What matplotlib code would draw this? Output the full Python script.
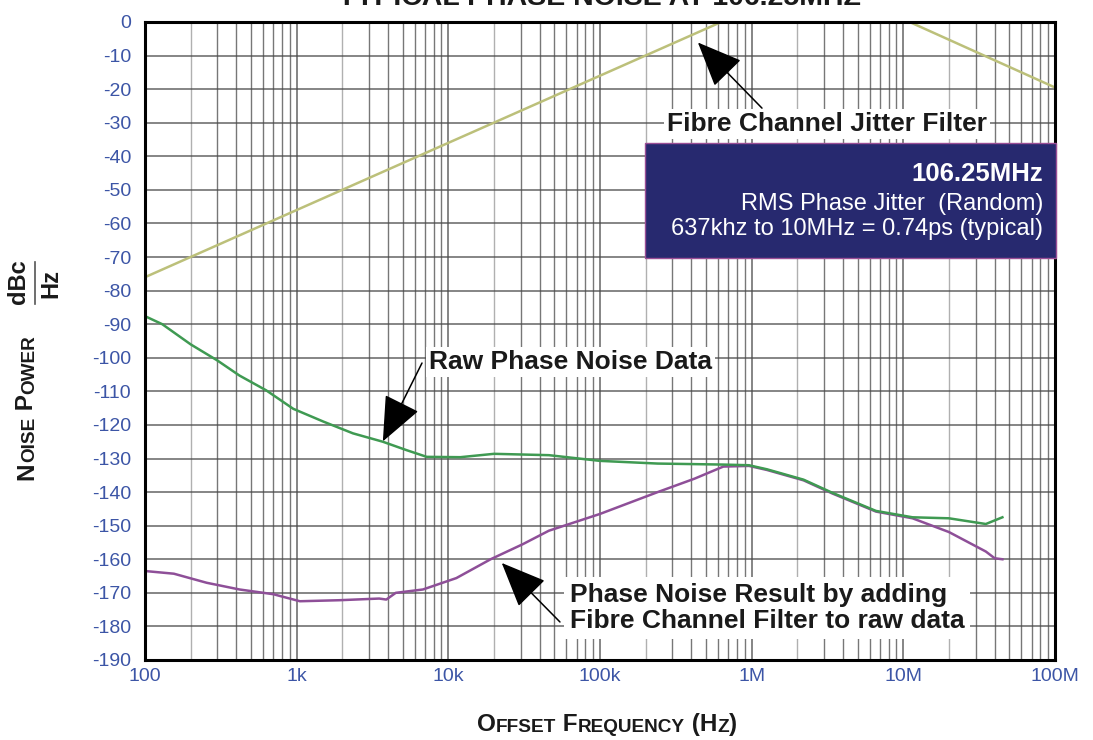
import matplotlib
matplotlib.use('Agg')
import matplotlib.pyplot as plt
from matplotlib.patches import Rectangle
from matplotlib.lines import Line2D
from matplotlib.ticker import FixedLocator, NullFormatter

plt.rcParams['font.family'] = ['Liberation Sans', 'DejaVu Sans']

# raw phase noise data (green)
raw_f = [100, 130, 200, 300, 420, 630, 950, 1.5e3, 2.35e3, 3.7e3, 5.3e3, 7.2e3,
         1.2e4, 2e4, 4.6e4, 1e5, 2.4e5, 6.5e5, 9.6e5, 1.26e6, 2.2e6, 3.4e6,
         6.6e6, 1.15e7, 2e7, 3.5e7, 4.5e7]
raw_db = [-87.6, -90, -96, -100.8, -105.3, -109.7, -115.2, -119, -122.5, -125,
          -127.5, -129.5, -129.6, -128.6, -129, -130.7, -131.5, -131.8, -132,
          -133.2, -136.3, -140.2, -145.6, -147.5, -147.8, -149.5, -147.5]

# result after fibre channel filter (purple)
res_f = [100, 155, 255, 420, 700, 900, 1.05e3, 1.9e3, 3.5e3, 3.9e3, 4.5e3, 6.8e3,
         1.13e4, 1.9e4, 3.1e4, 4.6e4, 1e5, 2.4e5, 4.2e5, 6.5e5, 9.6e5, 1.26e6,
         2.2e6, 3.4e6, 6.6e6, 1.15e7, 2e7, 3.5e7, 4e7, 4.5e7]
res_db = [-163.5, -164.3, -167, -169, -170.4, -171.7, -172.5, -172.2, -171.7, -172,
          -170, -169, -165.6, -160, -155.5, -151.5, -146.5, -140, -136, -132.4,
          -132.2, -133.4, -136.5, -140.4, -145.8, -147.8, -151.9, -157.7, -159.7, -160]

# fibre channel jitter filter (olive)
filt_f = [100, 6.3e5, 1.1e7, 1e8]
filt_db = [-76, 0, 0, -19.5]

x_ticks = [1e2, 1e3, 1e4, 1e5, 1e6, 1e7, 1e8]
x_labels = ['100', '1k', '10k', '100k', '1M', '10M', '100M']
y_ticks = list(range(0, -200, -10))

W, H = 1093, 740
fig = plt.figure(figsize=(W / 100, H / 100), dpi=100)
ax = fig.add_axes([145 / W, 1 - 660 / H, 910 / W, 638 / H])

blue = '#3c55a6'

ax.set_xscale('log')
ax.set_xlim(1e2, 1e8)
ax.set_ylim(-190, 0)

# grid
minor = [m * 10 ** d for d in range(2, 8) for m in range(3, 10)]
ax.xaxis.set_major_locator(FixedLocator(x_ticks))
ax.xaxis.set_minor_locator(FixedLocator(minor))
ax.xaxis.set_minor_formatter(NullFormatter())
ax.set_xticklabels(x_labels)
ax.set_yticks(y_ticks)
ax.set_yticklabels([str(v) for v in y_ticks])
ax.grid(True, which='major', color='#4a4a4a', lw=1.1, alpha=0.85)
ax.grid(True, which='minor', axis='x', color='#4a4a4a', lw=1.0, alpha=0.75)
for d in range(2, 8):
    ax.axvline(2 * 10 ** d, color='#b0b0b0', lw=1.0, zorder=0.5)
ax.tick_params(which='both', length=0, labelcolor=blue, labelsize=14)
ax.tick_params(axis='y', pad=10)
ax.tick_params(axis='x', pad=6)
for sp in ax.spines.values():
    sp.set_linewidth(2.2)
    sp.set_color('black')
    sp.set_zorder(4)

ax.plot(filt_f, filt_db, color='#bcc07a', lw=1.8, zorder=2)
ax.plot(res_f, res_db, color='#8e4f98', lw=1.8, zorder=3)
ax.plot(raw_f, raw_db, color='#3f9a52', lw=1.8, zorder=3)

# annotations
arrow = dict(arrowstyle='-|>,head_length=1.3,head_width=0.55', mutation_scale=22,
             lw=1.1, color='black', shrinkA=0, shrinkB=0)
ax.annotate('', xy=(4.42e5, -6.1), xytext=(0.678, 0.865),
            xycoords='data', textcoords='axes fraction', arrowprops=arrow, zorder=6)
ax.annotate('', xy=(3.7e3, -124.9), xytext=(0.3044, 0.4655),
            xycoords='data', textcoords='axes fraction', arrowprops=arrow, zorder=6)
ax.annotate('', xy=(2.25e4, -161.1), xytext=(0.456, 0.0596),
            xycoords='data', textcoords='axes fraction', arrowprops=arrow, zorder=6)

wbox = dict(fc='white', ec='none', pad=2)
ax.text(0.7495, 0.840, 'Fibre Channel Jitter Filter', transform=ax.transAxes,
        ha='center', va='center', fontsize=19, fontweight='bold', color='#1a1a1a',
        bbox=wbox, zorder=7)
ax.text(0.3121, 0.4671, 'Raw Phase Noise Data', transform=ax.transAxes,
        ha='left', va='center', fontsize=19, fontweight='bold', color='#1a1a1a',
        bbox=wbox, zorder=7)
ax.text(0.467, 0.0815, 'Phase Noise Result by adding\nFibre Channel Filter to raw data',
        transform=ax.transAxes, ha='left', va='center', fontsize=19,
        fontweight='bold', color='#1a1a1a', linespacing=1.15,
        bbox=dict(fc='white', ec='none', pad=4), zorder=7)

ax.add_patch(Rectangle((0.5495, 0.630), 0.452, 0.180, transform=ax.transAxes,
                       fc='#27296f', ec='#9b4f96', lw=1, clip_on=False, zorder=8))
ax.text(0.9868, 0.7618, '106.25MHz', transform=ax.transAxes, ha='right', va='center',
        fontsize=18.5, fontweight='bold', color='white', zorder=9)
ax.text(0.9868, 0.7147, 'RMS Phase Jitter  (Random)', transform=ax.transAxes,
        ha='right', va='center', fontsize=17, color='white', zorder=9)
ax.text(0.9868, 0.6755, '637khz to 10MHz = 0.74ps (typical)', transform=ax.transAxes,
        ha='right', va='center', fontsize=17, color='white', zorder=9)

fig.text(600 / W, 1 - 5 / H, 'TYPICAL PHASE NOISE AT 106.25MHZ', ha='center',
         va='baseline', fontsize=20.5, fontweight='bold', color='#1a1a1a')


def small_caps(x, y, s, big, small, rotation=0):
    runs = []
    for ch in s:
        sm = ch.islower()
        if runs and runs[-1][1] == sm:
            runs[-1][0] += ch.upper()
        else:
            runs.append([ch.upper(), sm])
    prev = ax.annotate(runs[0][0], xy=(x, y), xycoords='figure fraction',
                       fontsize=small if runs[0][1] else big, fontweight='bold',
                       rotation=rotation, rotation_mode='anchor', ha='left',
                       va='baseline', annotation_clip=False, color='#1a1a1a')
    for txt, sm in runs[1:]:
        if rotation == 0:
            pos, ha = (1, 0), 'left'
        else:
            pos, ha = (1, 1), 'right'
        prev = ax.annotate(txt, xy=pos, xycoords=prev, ha=ha, va='bottom',
                           rotation=rotation, fontsize=small if sm else big,
                           fontweight='bold', annotation_clip=False, color='#1a1a1a')


small_caps(477 / W, 1 - 731 / H, 'Offset Frequency (Hz)', 17.5, 13.7)
small_caps(33 / W, 1 - 480 / H, 'Noise Power', 17.5, 13.7, rotation=90)

fig.text(18 / W, 1 - 282 / H, 'dBc', rotation=90, ha='center', va='center',
         fontsize=17, fontweight='bold', color='#1a1a1a')
fig.text(51 / W, 1 - 283 / H, 'Hz', rotation=90, ha='center', va='center',
         fontsize=17, fontweight='bold', color='#1a1a1a')
fig.add_artist(Line2D([34.5 / W, 34.5 / W], [1 - 262 / H, 1 - 304 / H],
                      transform=fig.transFigure, color='#555555', lw=1.2))

fig.savefig('out.png', dpi=100)
